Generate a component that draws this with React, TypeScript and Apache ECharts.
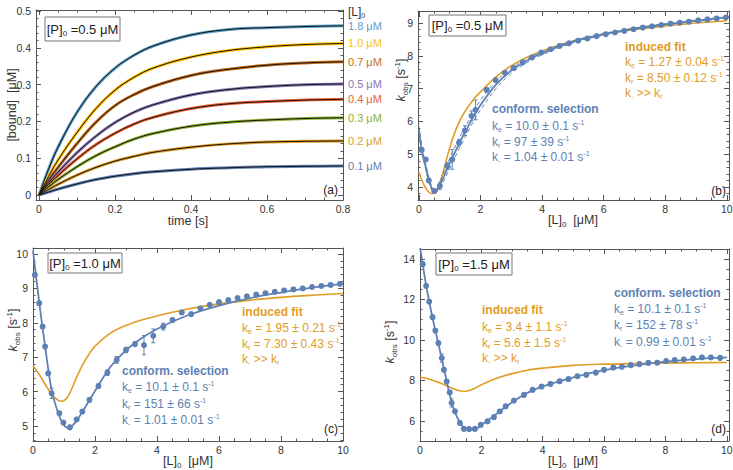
import React, { useEffect, useRef } from "react";
import * as echarts from "echarts";

const FONT = "'Liberation Sans', Arial, sans-serif";
const BLUE = "#5E81B5";
const ORANGE = "#E19C24";
const AXIS = "#555";
const LABEL = "#333";

// ---------- Panel (a): binding kinetics ----------
const timeS = [0, 0.025, 0.05, 0.1, 0.15, 0.2, 0.25, 0.3, 0.4, 0.5, 0.6, 0.7, 0.8];
const ligandLabels = ["1.8 μM", "1.0 μM", "0.7 μM", "0.5 μM", "0.4 μM", "0.3 μM", "0.2 μM", "0.1 μM"];
const ligandColors = ["#5D9EC7", "#FFBF00", "#C56E1A", "#8778B3", "#EB6235", "#8FB032", "#E19C24", "#5E81B5"];
const bound18 = [0, 0.07, 0.13, 0.225, 0.295, 0.345, 0.38, 0.405, 0.435, 0.45, 0.455, 0.458, 0.46];
const bound10 = [0, 0.05, 0.095, 0.17, 0.235, 0.285, 0.32, 0.345, 0.375, 0.393, 0.403, 0.409, 0.412];
const bound07 = [0, 0.04, 0.075, 0.14, 0.198, 0.243, 0.273, 0.295, 0.325, 0.342, 0.353, 0.359, 0.362];
const bound05 = [0, 0.033, 0.062, 0.115, 0.16, 0.197, 0.225, 0.245, 0.272, 0.287, 0.295, 0.3, 0.302];
const bound04 = [0, 0.028, 0.053, 0.098, 0.137, 0.168, 0.193, 0.211, 0.235, 0.248, 0.254, 0.258, 0.26];
const bound03 = [0, 0.022, 0.042, 0.077, 0.107, 0.131, 0.152, 0.167, 0.187, 0.198, 0.204, 0.208, 0.21];
const bound02 = [0, 0.015, 0.029, 0.054, 0.075, 0.092, 0.105, 0.116, 0.13, 0.139, 0.144, 0.146, 0.147];
const bound01 = [0, 0.008, 0.016, 0.03, 0.042, 0.051, 0.058, 0.063, 0.07, 0.074, 0.077, 0.078, 0.079];
const boundSets = [bound18, bound10, bound07, bound05, bound04, bound03, bound02, bound01];

// ---------- Panel (b): [P]0 = 0.5 μM ----------
const bX = [0.09, 0.22, 0.32, 0.5, 0.68, 0.92, 1.08, 1.3, 1.49, 1.71, 1.84, 2.2, 2.49, 2.79, 3.08, 3.37, 3.67, 3.97, 4.27, 4.57, 4.87, 5.17, 5.47, 5.77, 6.07, 6.37, 6.67, 6.97, 7.27, 7.57, 7.87, 8.17, 8.47, 8.77, 9.07, 9.37, 9.67, 9.97];
const bY = [5.13, 4.84, 4.2, 3.88, 4.03, 4.64, 4.84, 5.35, 5.72, 6.17, 6.35, 6.96, 7.26, 7.48, 7.63, 7.8, 7.95, 8.1, 8.2, 8.3, 8.38, 8.46, 8.53, 8.6, 8.66, 8.71, 8.76, 8.81, 8.86, 8.9, 8.94, 8.98, 9.01, 9.04, 9.08, 9.11, 9.14, 9.17];
const bErr = [0.06, 0.06, 0.06, 0.06, 0.1, 0.1, 0.3, 0.1, 0.15, 0.15, 0.3, 0.06, 0.05, 0.05, 0.05, 0.05, 0.05, 0.05, 0.05, 0.05, 0.05, 0.05, 0.05, 0.05, 0.05, 0.05, 0.05, 0.05, 0.05, 0.05, 0.05, 0.05, 0.05, 0.05, 0.05, 0.05, 0.05, 0.05];
const bFitX = [0, 0.1, 0.2, 0.3, 0.4, 0.5, 0.6, 0.7, 0.8, 1.0, 1.2, 1.4, 1.6, 1.8, 2.0, 2.5, 3, 3.5, 4, 5, 6, 7, 8, 9, 10];
const bCS = [5.75, 5.1, 4.7, 4.3, 4.0, 3.87, 3.93, 4.1, 4.3, 4.72, 5.12, 5.5, 5.85, 6.2, 6.5, 7.12, 7.55, 7.85, 8.08, 8.43, 8.66, 8.83, 8.96, 9.07, 9.17];
const bCSUp = [5.85, 5.2, 4.78, 4.38, 4.07, 3.92, 3.98, 4.18, 4.42, 4.87, 5.28, 5.66, 6.0, 6.35, 6.65, 7.22, 7.62, 7.9, 8.12, 8.46, 8.68, 8.85, 8.98, 9.09, 9.19];
const bCSLo = [5.65, 5.0, 4.62, 4.22, 3.93, 3.82, 3.86, 4.0, 4.18, 4.57, 4.96, 5.34, 5.7, 6.05, 6.35, 7.0, 7.47, 7.79, 8.03, 8.39, 8.63, 8.81, 8.94, 9.05, 9.15];
const bIF = [4.45, 4.2, 4.0, 3.87, 3.8, 3.8, 3.95, 4.2, 4.5, 5.2, 5.75, 6.15, 6.45, 6.7, 6.9, 7.35, 7.7, 7.95, 8.15, 8.45, 8.65, 8.8, 8.91, 9.0, 9.07];

// ---------- Panel (c): [P]0 = 1.0 μM ----------
const cX = [0.06, 0.2, 0.31, 0.39, 0.49, 0.6, 0.85, 0.98, 1.19, 1.41, 1.59, 1.82, 2.11, 2.4, 2.7, 3.0, 3.29, 3.58, 3.88, 4.2, 4.5, 4.8, 5.1, 5.4, 5.7, 6.0, 6.3, 6.6, 6.9, 7.2, 7.5, 7.8, 8.1, 8.4, 8.7, 9.0, 9.3, 9.6, 9.9];
const cY = [9.39, 8.57, 7.89, 7.31, 6.53, 5.95, 5.37, 5.1, 4.96, 5.19, 5.42, 5.76, 6.16, 6.55, 6.92, 7.21, 7.38, 7.35, 7.62, 7.89, 8.08, 8.3, 8.25, 8.42, 8.52, 8.6, 8.66, 8.72, 8.77, 8.82, 8.86, 8.9, 8.94, 8.97, 9.0, 9.04, 9.07, 9.1, 9.13];
const cErr = [0.06, 0.06, 0.06, 0.06, 0.06, 0.15, 0.06, 0.06, 0.06, 0.06, 0.06, 0.06, 0.06, 0.08, 0.1, 0.08, 0.06, 0.28, 0.2, 0.1, 0.06, 0.06, 0.06, 0.05, 0.05, 0.05, 0.05, 0.05, 0.05, 0.05, 0.05, 0.05, 0.05, 0.05, 0.05, 0.05, 0.05, 0.05, 0.05];
const cFitX = [0, 0.2, 0.4, 0.6, 0.8, 0.9, 1.0, 1.1, 1.2, 1.4, 1.6, 1.8, 2.0, 2.5, 3, 3.5, 4, 5, 6, 7, 8, 9, 10];
const cCS = [10.1, 8.6, 7.25, 6.05, 5.4, 5.18, 5.02, 4.95, 4.96, 5.15, 5.42, 5.72, 6.02, 6.72, 7.2, 7.55, 7.82, 8.22, 8.5, 8.72, 8.88, 9.02, 9.13];
const cIF = [6.75, 6.5, 6.2, 5.92, 5.75, 5.72, 5.74, 5.82, 5.98, 6.4, 6.78, 7.08, 7.32, 7.7, 7.92, 8.08, 8.2, 8.4, 8.55, 8.66, 8.74, 8.8, 8.85];

// ---------- Panel (d): [P]0 = 1.5 μM ----------
const dX = [0.09, 0.2, 0.3, 0.41, 0.5, 0.6, 0.71, 0.78, 0.87, 0.97, 1.03, 1.14, 1.3, 1.43, 1.6, 1.79, 1.98, 2.2, 2.41, 2.6, 2.79, 3.06, 3.39, 3.67, 3.96, 4.25, 4.55, 4.84, 5.13, 5.42, 5.73, 6.0, 6.3, 6.58, 6.87, 7.15, 7.44, 7.73, 8.02, 8.3, 8.6, 8.9, 9.19, 9.48, 9.78];
const dY = [13.74, 12.67, 11.89, 11.12, 10.46, 9.84, 9.1, 8.52, 7.94, 7.4, 6.88, 6.47, 5.89, 5.6, 5.59, 5.6, 5.8, 5.97, 6.18, 6.46, 6.71, 7.0, 7.28, 7.53, 7.69, 7.82, 7.95, 8.06, 8.2, 8.27, 8.38, 8.52, 8.63, 8.67, 8.75, 8.8, 8.86, 8.87, 8.95, 9.0, 9.03, 9.08, 9.13, 9.13, 9.11];
const dErr = [0.1, 0.1, 0.1, 0.1, 0.1, 0.1, 0.2, 0.1, 0.1, 0.1, 0.2, 0.1, 0.1, 0.1, 0.1, 0.1, 0.1, 0.1, 0.1, 0.1, 0.1, 0.1, 0.1, 0.1, 0.1, 0.1, 0.1, 0.1, 0.1, 0.1, 0.1, 0.1, 0.1, 0.1, 0.1, 0.1, 0.1, 0.1, 0.1, 0.1, 0.1, 0.1, 0.1, 0.1, 0.1];
const dFitX = [0, 0.2, 0.4, 0.6, 0.8, 1.0, 1.2, 1.4, 1.6, 1.8, 2.0, 2.5, 3, 3.5, 4, 5, 6, 7, 8, 9, 10];
const dCS = [14.6, 12.7, 11.15, 9.8, 8.45, 7.1, 6.2, 5.7, 5.55, 5.58, 5.78, 6.35, 6.92, 7.38, 7.7, 8.15, 8.5, 8.74, 8.92, 9.05, 9.13];
const dIF = [8.15, 8.1, 8.0, 7.9, 7.78, 7.64, 7.52, 7.45, 7.5, 7.62, 7.78, 8.1, 8.33, 8.5, 8.6, 8.74, 8.8, 8.83, 8.85, 8.87, 8.88];

// ---------- Tick labels ----------
const aXTicks = [0, 0.2, 0.4, 0.6, 0.8];
const aYTicks = [0, 0.1, 0.2, 0.3, 0.4, 0.5];
const concTicks = [0, 2, 4, 6, 8, 10];
const bYTicks = [4, 5, 6, 7, 8, 9];
const cYTicks = [5, 6, 7, 8, 9, 10];
const dYTicks = [6, 8, 10, 12, 14];

const zip = (xs: number[], ys: number[]) => xs.map((x, i) => [x, ys[i]]);
const zip3 = (xs: number[], ys: number[], es: number[]) => xs.map((x, i) => [x, ys[i], es[i]]);

function minorTicks(min: number, max: number, step: number, majors: number[]) {
  const out: number[] = [];
  const s = Math.ceil(min / step - 1e-9);
  const e = Math.floor(max / step + 1e-9);
  for (let k = s; k <= e; k++) {
    const v = +(k * step).toFixed(6);
    if (v > min && v < max && !majors.some((m) => Math.abs(m - v) < 1e-9)) out.push(v);
  }
  return out;
}

const fmt = (v: number) => `${+(+v).toFixed(3)}`;

function axisSet(dim: "x" | "y", g: number, min: number, max: number, majors: number[], step: number) {
  const minors = minorTicks(min, max, step, majors);
  const base = {
    type: "value",
    gridIndex: g,
    min,
    max,
    splitLine: { show: false },
    axisPointer: { show: false },
  };
  const line = { show: true, onZero: false, lineStyle: { color: AXIS, width: 1 } };
  const noLine = { show: false, onZero: false };
  const majTick = { show: true, inside: true, length: 5, customValues: majors, lineStyle: { color: AXIS, width: 1 } };
  const minTick = { show: true, inside: true, length: 2.5, customValues: minors, lineStyle: { color: AXIS, width: 1 } };
  const p1 = dim === "x" ? "bottom" : "left";
  const p2 = dim === "x" ? "top" : "right";
  return [
    {
      ...base,
      position: p1,
      axisLine: line,
      axisTick: majTick,
      axisLabel: { show: true, customValues: majors, formatter: fmt, margin: dim === "x" ? 3 : 5, fontSize: 10.5, color: LABEL, fontFamily: FONT },
    },
    { ...base, position: p1, axisLine: noLine, axisTick: minTick, axisLabel: { show: false } },
    { ...base, position: p2, axisLine: line, axisTick: majTick, axisLabel: { show: false } },
    { ...base, position: p2, axisLine: noLine, axisTick: minTick, axisLabel: { show: false } },
  ];
}

function richFor(color: string, size: number) {
  const s = Math.round(size * 0.62);
  return {
    sub: { fill: color, fontSize: s, fontFamily: FONT, padding: [Math.round(size * 0.6), 0, 0, 0] },
    sup: { fill: color, fontSize: s, fontFamily: FONT, padding: [0, 0, Math.round(size * 0.6), 0] },
    b: { fill: color, fontSize: size, fontFamily: FONT, fontWeight: "bold" },
    i: { fill: color, fontSize: size, fontFamily: FONT, fontStyle: "italic" },
  };
}

function txt(text: string, x: number, y: number, color: string, size: number, align = "left", rot = 0) {
  return {
    type: "text",
    x,
    y,
    rotation: rot,
    silent: true,
    z: 100,
    style: {
      text,
      fill: color,
      fontSize: size,
      fontFamily: FONT,
      align,
      verticalAlign: "middle",
      textAlign: align,
      textVerticalAlign: "middle",
      rich: richFor(color, size),
    },
  };
}

function box(label: string, x: number, y: number, w: number, h: number) {
  return [
    { type: "rect", silent: true, z: 99, shape: { x, y, width: w, height: h }, style: { fill: "#fff", stroke: "#777", lineWidth: 1 } },
    txt(label, x + w / 2, y + h / 2, "#222", 13, "center"),
  ];
}

function errRender(params: any, api: any) {
  const x = api.value(0);
  const y = api.value(1);
  const e = api.value(2);
  const top = api.coord([x, y + e]);
  const bot = api.coord([x, y - e]);
  const w = 2;
  const st = { stroke: BLUE, lineWidth: 1 };
  return {
    type: "group",
    children: [
      { type: "line", shape: { x1: top[0], y1: top[1], x2: bot[0], y2: bot[1] }, style: st },
      { type: "line", shape: { x1: top[0] - w, y1: top[1], x2: top[0] + w, y2: top[1] }, style: st },
      { type: "line", shape: { x1: bot[0] - w, y1: bot[1], x2: bot[0] + w, y2: bot[1] }, style: st },
    ],
  };
}

function kobsSeries(g: number, px: number[], py: number[], pe: number[], fx: number[], cs: number[], ifit: number[], bands?: number[][]) {
  const ax = { xAxisIndex: 4 * g, yAxisIndex: 4 * g };
  const s: any[] = [
    { type: "line", ...ax, data: zip(fx, ifit), smooth: 0.35, symbol: "none", lineStyle: { color: ORANGE, width: 1.6 }, z: 2 },
    { type: "line", ...ax, data: zip(fx, cs), smooth: 0.35, symbol: "none", lineStyle: { color: BLUE, width: 1.8 }, z: 3 },
  ];
  if (bands) {
    bands.forEach((b) =>
      s.push({ type: "line", ...ax, data: zip(fx, b), smooth: 0.35, symbol: "none", lineStyle: { color: BLUE, width: 1, type: [4, 3] }, z: 3 })
    );
  }
  s.push({ type: "custom", ...ax, data: zip3(px, py, pe), encode: { x: 0, y: 1 }, renderItem: errRender, z: 4 });
  s.push({ type: "scatter", ...ax, data: zip(px, py), symbolSize: 6, itemStyle: { color: BLUE, opacity: 1 }, z: 5 });
  return s;
}

function buildOption() {
  const grids = [
    { left: 36, top: 10, width: 307, height: 190 },
    { left: 418, top: 11, width: 311, height: 189 },
    { left: 33, top: 248, width: 310, height: 193 },
    { left: 420, top: 249, width: 309, height: 192 },
  ].map((g) => ({ ...g, containLabel: false, outerBoundsMode: "none" }));

  const xAxis = [
    ...axisSet("x", 0, -0.008, 0.8, aXTicks, 0.05),
    ...axisSet("x", 1, -0.03, 10.07, concTicks, 0.5),
    ...axisSet("x", 2, 0, 10, concTicks, 0.5),
    ...axisSet("x", 3, 0, 10.07, concTicks, 0.5),
  ];
  const yAxis = [
    ...axisSet("y", 0, -0.0136, 0.503, aYTicks, 0.02),
    ...axisSet("y", 1, 3.604, 9.366, bYTicks, 0.2),
    ...axisSet("y", 2, 4.564, 10.174, cYTicks, 0.2),
    ...axisSet("y", 3, 5.0, 14.49, dYTicks, 0.5),
  ];

  const series: any[] = [];
  boundSets.forEach((arr, i) => {
    const data = zip(timeS, arr);
    series.push({
      type: "line",
      name: ligandLabels[i],
      xAxisIndex: 0,
      yAxisIndex: 0,
      data,
      smooth: 0.4,
      symbol: "none",
      lineStyle: { color: ligandColors[i], width: 3 },
      endLabel: { show: true, formatter: "{a}", color: ligandColors[i], fontSize: 11, fontFamily: FONT, distance: 5 },
      z: 2,
    });
    series.push({ type: "line", xAxisIndex: 0, yAxisIndex: 0, data, smooth: 0.4, symbol: "none", lineStyle: { color: "#111", width: 1 }, z: 3 });
  });
  series.push(...kobsSeries(1, bX, bY, bErr, bFitX, bCS, bIF, [bCSUp, bCSLo]));
  series.push(...kobsSeries(2, cX, cY, cErr, cFitX, cCS, cIF));
  series.push(...kobsSeries(3, dX, dY, dErr, dFitX, dCS, dIF));

  const kobs = "{i|k}{sub|obs} [s{sup|-1}]";
  const conc = "[L]{sub|0}  [μM]";
  const graphic: any[] = [
    // axis titles
    txt("time [s]", 188, 221, LABEL, 12.5, "center"),
    txt("[bound]  [μM]", 12, 105, LABEL, 12.5, "center", Math.PI / 2),
    txt(conc, 573, 220, LABEL, 12.5, "center"),
    txt(kobs, 401, 80, LABEL, 12.5, "center", Math.PI / 2),
    txt(conc, 188, 461, LABEL, 12.5, "center"),
    txt(kobs, 13, 330, LABEL, 12.5, "center", Math.PI / 2),
    txt(conc, 573, 461, LABEL, 12.5, "center"),
    txt(kobs, 390, 342, LABEL, 12.5, "center", Math.PI / 2),
    txt("[L]{sub|0}", 348, 12, LABEL, 12, "left"),
    // panel tags
    txt("(a)", 338, 190, "#222", 12, "right"),
    txt("(b)", 726, 191, "#222", 12, "right"),
    txt("(c)", 338, 429, "#222", 12, "right"),
    txt("(d)", 726, 429, "#222", 12, "right"),
    // boxes
    ...box("[P]{sub|0} =0.5 μM", 45, 17, 75, 24),
    ...box("[P]{sub|0} =0.5 μM", 429, 15, 77, 21),
    ...box("[P]{sub|0} =1.0 μM", 48, 253, 74, 20),
    ...box("[P]{sub|0} =1.5 μM", 436, 253, 76, 22),
    // panel (b) annotations
    txt("{b|conform. selection}", 492, 109, BLUE, 12),
    txt("k{sub|e} = 10.0 ± 0.1 s{sup|-1}", 492, 126, BLUE, 12),
    txt("k{sub|r} = 97 ± 39 s{sup|-1}", 492, 142, BLUE, 12),
    txt("k{sub|-} = 1.04 ± 0.01 s{sup|-1}", 492, 157, BLUE, 12),
    txt("{b|induced fit}", 625, 47, ORANGE, 12),
    txt("k{sub|e} = 1.27 ± 0.04 s{sup|-1}", 625, 62, ORANGE, 12),
    txt("k{sub|r} = 8.50 ± 0.12 s{sup|-1}", 625, 78, ORANGE, 12),
    txt("k{sub|-} >> k{sub|r}", 625, 93, ORANGE, 12),
    // panel (c)
    txt("{b|induced fit}", 242, 312, ORANGE, 12),
    txt("k{sub|e} = 1.95 ± 0.21 s{sup|-1}", 242, 328, ORANGE, 12),
    txt("k{sub|r} = 7.30 ± 0.43 s{sup|-1}", 242, 344, ORANGE, 12),
    txt("k{sub|-} >> k{sub|r}", 242, 359, ORANGE, 12),
    txt("{b|conform. selection}", 122, 371, BLUE, 12),
    txt("k{sub|e} = 10.1 ± 0.1 s{sup|-1}", 122, 387, BLUE, 12),
    txt("k{sub|r} = 151 ± 66 s{sup|-1}", 122, 404, BLUE, 12),
    txt("k{sub|-} = 1.01 ± 0.01 s{sup|-1}", 122, 420, BLUE, 12),
    // panel (d)
    txt("{b|induced fit}", 482, 310, ORANGE, 12),
    txt("k{sub|e} = 3.4 ± 1.1 s{sup|-1}", 482, 327, ORANGE, 12),
    txt("k{sub|r} = 5.6 ± 1.5 s{sup|-1}", 482, 343, ORANGE, 12),
    txt("k{sub|-} >> k{sub|r}", 482, 358, ORANGE, 12),
    txt("{b|conform. selection}", 614, 293, BLUE, 12),
    txt("k{sub|e} = 10.1 ± 0.1 s{sup|-1}", 614, 309, BLUE, 12),
    txt("k{sub|r} = 152 ± 78 s{sup|-1}", 614, 325, BLUE, 12),
    txt("k{sub|-} = 0.99 ± 0.01 s{sup|-1}", 614, 342, BLUE, 12),
  ];

  return {
    animation: false,
    backgroundColor: "#fff",
    textStyle: { fontFamily: FONT },
    grid: grids,
    xAxis,
    yAxis,
    series,
    graphic,
  };
}

export default function App() {
  const ref = useRef<HTMLDivElement>(null);
  useEffect(() => {
    if (!ref.current) return;
    const chart = echarts.init(ref.current, null, { renderer: "svg" });
    chart.setOption(buildOption() as any);
    return () => chart.dispose();
  }, []);
  return <div ref={ref} style={{ position: "fixed", left: 0, top: 0, width: 733, height: 470 }} />;
}
